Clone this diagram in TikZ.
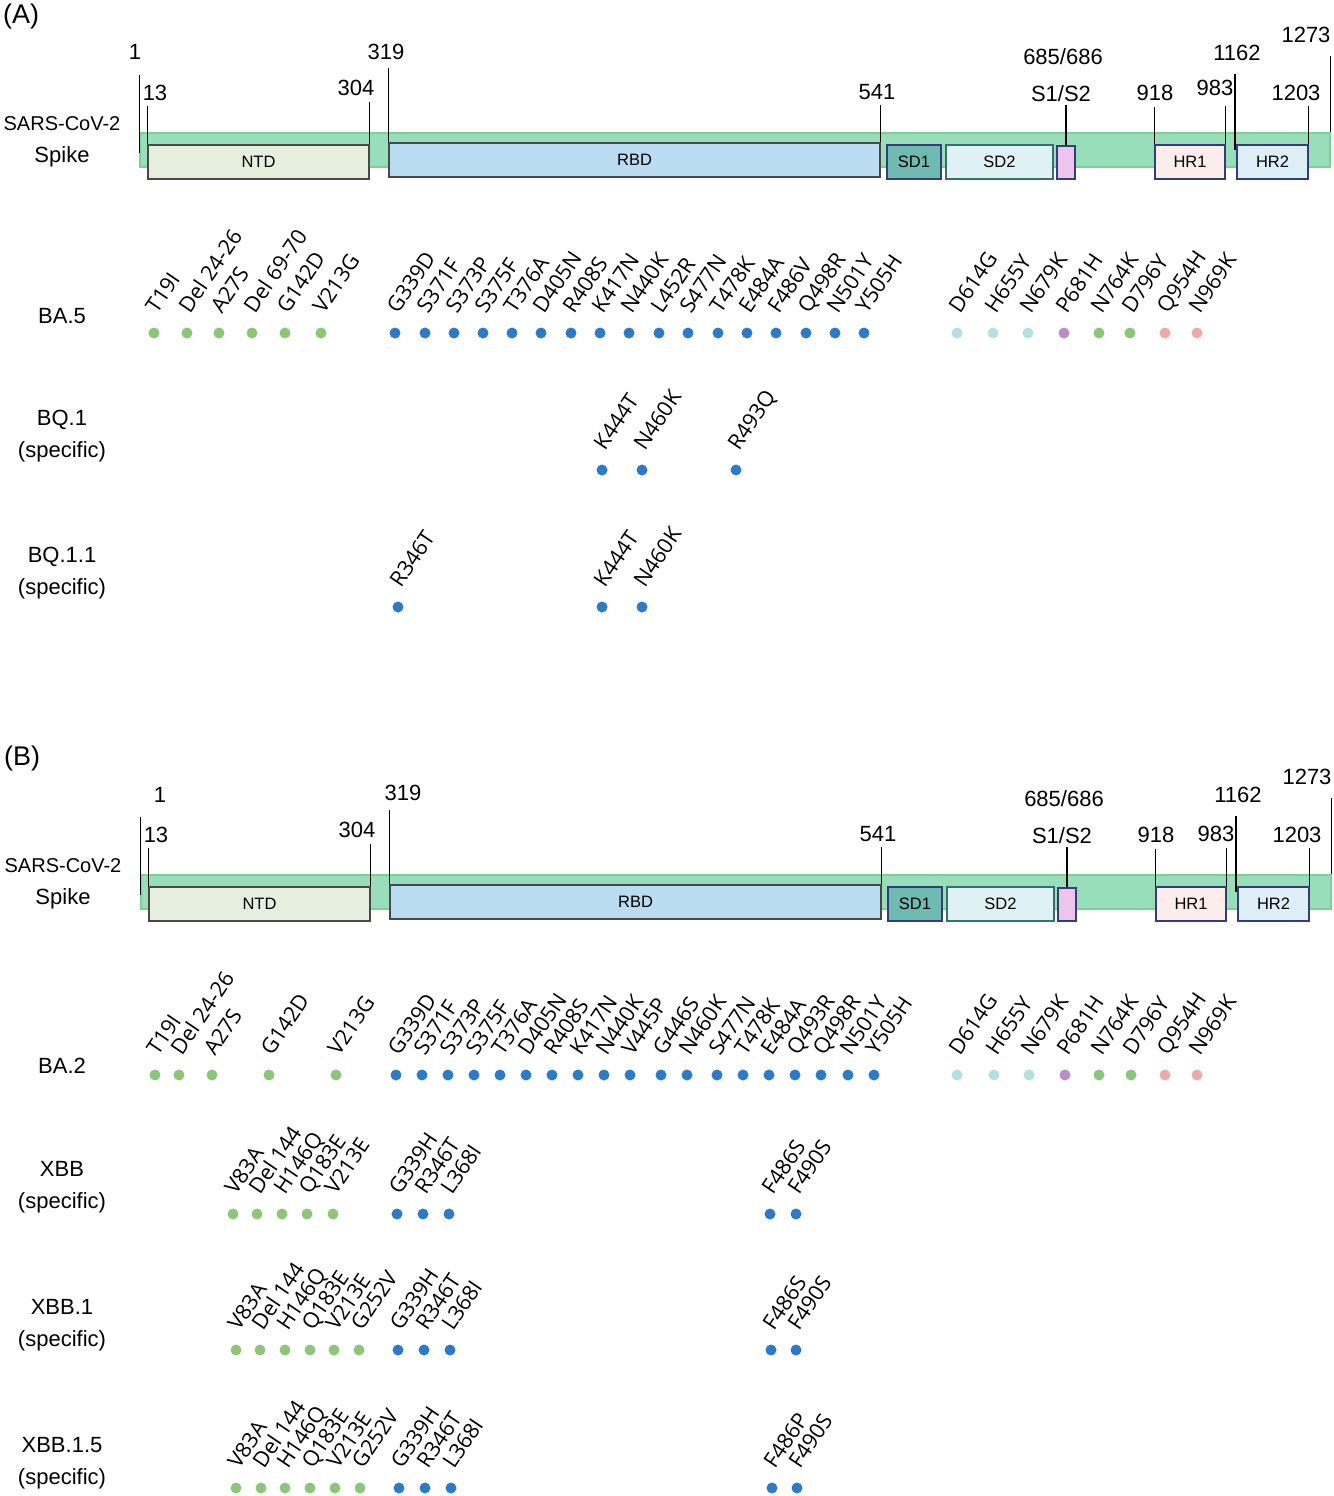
\documentclass[tikz,border=0pt]{standalone}
\usepackage{fontspec}
\setmainfont{Liberation Sans}
\newfontfamily\mutfont{Open Sans}
\usepackage{tikz}
\usetikzlibrary{positioning}

\definecolor{barmint}{RGB}{152,222,186}
\definecolor{barline}{RGB}{125,208,145}
\definecolor{boxgray}{RGB}{72,72,72}
\definecolor{boxnavy}{RGB}{52,62,118}
\definecolor{boxteal}{RGB}{52,112,112}
\definecolor{ntdfill}{RGB}{230,238,222}
\definecolor{rbdfill}{RGB}{186,220,242}
\definecolor{sdonefill}{RGB}{111,187,178}
\definecolor{sdtwofill}{RGB}{223,241,244}
\definecolor{cleavefill}{RGB}{236,196,236}
\definecolor{hronefill}{RGB}{253,236,236}
\definecolor{hrtwofill}{RGB}{221,238,246}
\definecolor{mutgreen}{RGB}{141,198,120}
\definecolor{mutblue}{RGB}{45,123,198}
\definecolor{mutcyan}{RGB}{180,225,223}
\definecolor{mutpurple}{RGB}{186,140,200}
\definecolor{mutpink}{RGB}{236,170,170}

\tikzset{
  panellab/.style={anchor=west, inner sep=0pt, font=\fontsize{27}{30}\selectfont},
  backbone/.style={rectangle, draw=barline, fill=barmint, line width=1.2pt,
                   minimum height=34pt, inner sep=0pt},
  domainbox/.style={rectangle, line width=1.4pt, minimum height=34pt, inner sep=0pt,
                 font=\fontsize{16.5}{18}\selectfont},
  poslab/.style={inner sep=0pt, font=\fontsize{22}{24}\selectfont},
  tickline/.style={line width=1.4pt, black},
  rowlab/.style={align=center, inner sep=0pt, font=\fontsize{22}{32}\selectfont},
  mutdot/.style={circle, inner sep=0pt, minimum size=11pt, draw=none},
  mutlab/.style={anchor=base west, rotate=56, inner sep=0pt,
                 font=\mutfont\fontsize{21.5}{24}\selectfont},
}

% spike map: #1 panel, #2 scope options, #3 pos of "1", #4 pos of "319", #5 pos of "983"
\newcommand{\spikemap}[5]{%
  \begin{scope}[#2]
    \node[panellab] (#1-tag) at (3,17) {(#1)};
    \node[rowlab, font=\fontsize{20}{32}\selectfont] (#1-name) at (62,142) {SARS-CoV-2\\\fontsize{22}{32}\selectfont Spike};
    % backbone and domains
    \node[backbone, minimum width=1190pt] (#1-bar) at (735,150) {};
    \node[domainbox, fill=ntdfill, draw=boxgray, minimum width=221pt] (#1-ntd) at (258.5,162) {NTD};
    \node[domainbox, fill=rbdfill, draw=boxgray, minimum width=491pt] (#1-rbd) at (634.5,160) {RBD};
    \node[domainbox, fill=sdonefill, draw=boxnavy, minimum width=54pt] (#1-sd1) at (914,162) {SD1};
    \node[domainbox, fill=sdtwofill, draw=boxteal, minimum width=107pt] (#1-sd2) at (999.5,162) {SD2};
    \node[domainbox, fill=cleavefill, draw=boxnavy, minimum width=18pt, minimum height=33pt] (#1-cut) at (1066,162.5) {};
    \node[domainbox, fill=hronefill, draw=boxnavy, minimum width=70pt] (#1-hr1) at (1190,162) {HR1};
    \node[domainbox, fill=hrtwofill, draw=boxnavy, minimum width=71pt] (#1-hr2) at (1272.5,162) {HR2};
    % ticks
    \draw[tickline] ([yshift=-3pt]#1-bar.west) -- ++(0,-78);
    \draw[tickline] (#1-ntd.north west) -- ++(0,-38);
    \draw[tickline] (#1-ntd.north east) -- ++(0,-42);
    \draw[tickline] (#1-rbd.north west) -- ++(0,-74);
    \draw[tickline] (#1-rbd.north east) -- ++(0,-37);
    \draw[tickline] (#1-cut.north) -- ++(0,-40);
    \draw[tickline] (#1-hr1.north west) -- ++(0,-37);
    \draw[tickline] (#1-hr1.north east) -- ++(0,-38);
    \draw[tickline] ([xshift=-1.5pt,yshift=-6pt]#1-hr2.north west) -- ++(0,-76);
    \draw[tickline] (#1-hr2.north east) -- ++(0,-38);
    \draw[tickline] (#1-bar.north east) -- ++(0,-76);
    % positions
    \node[poslab] (#1-p1) at (#3) {1};
    \node[poslab] (#1-p13) at (155,93) {13};
    \node[poslab] (#1-p304) at (356,88) {304};
    \node[poslab] (#1-p319) at (#4) {319};
    \node[poslab] (#1-p541) at (877,92) {541};
    \node[poslab] (#1-p685) at (1063,57) {685/686};
    \node[poslab] (#1-s1s2) at (1061,94) {S1/S2};
    \node[poslab] (#1-p918) at (1155,93) {918};
    \node[poslab] (#1-p983) at (#5) {983};
    \node[poslab] (#1-p1162) at (1237,53) {1162};
    \node[poslab] (#1-p1203) at (1296,93) {1203};
    \node[poslab] (#1-p1273) at (1306,35) {1273};
  \end{scope}}

% one row of mutations: #1 name, #2 dot y, #3 colour, #4 x/label list
\newcommand{\mutrow}[4]{%
  \foreach \x/\lab [count=\i] in {#4} {
    \node[mutdot, fill=#3] (#1\i) at (\x,#2) {};
    \node[mutlab] (#1\i-lab) at ([xshift=3pt,yshift=18pt]#1\i.center) {\lab};
  }}

\begin{document}
\begin{tikzpicture}[x=1pt, y=-1pt]
  \useasboundingbox (0,0) rectangle (1333,1496);

  % Panel A
  \spikemap{A}{}{135,52}{386,52}{1215,88}

  \node[rowlab] (ba5) at (62,316) {BA.5};
  \node[rowlab] (bq1) at (62,436) {BQ.1\\(specific)};
  \node[rowlab] (bq11) at (62,573) {BQ.1.1\\(specific)};

  \mutrow{ba5g}{333}{mutgreen}{154/T19I, 187/Del 24-26, 219/A27S, 252/Del 69-70, 285/G142D, 321/V213G}
  \mutrow{ba5b}{333}{mutblue}{395/G339D, 425/S371F, 454/S373P, 483/S375F, 512/T376A, 541/D405N,
    571/R408S, 600/K417N, 629/N440K, 659/L452R, 688/S477N, 718/T478K, 747/E484A, 776/F486V,
    806/Q498R, 835/N501Y, 864/Y505H}
  \mutrow{ba5c}{333}{mutcyan}{957/D614G, 993/H655Y, 1028/N679K}
  \mutrow{ba5p}{333}{mutpurple}{1064/P681H}
  \mutrow{ba5s}{333}{mutgreen}{1099/N764K, 1130/D796Y}
  \mutrow{ba5r}{333}{mutpink}{1165/Q954H, 1197/N969K}

  \mutrow{bq1b}{470}{mutblue}{602/K444T, 642/N460K, 736/R493Q}
  \mutrow{bq11b}{607}{mutblue}{398/R346T, 602/K444T, 642/N460K}

  % Panel B
  \spikemap{B}{xshift=1pt, yshift=-742pt}{159,53}{402,51}{1215,92}

  \node[rowlab] (ba2) at (62,1066) {BA.2};
  \node[rowlab] (xbb) at (62,1187) {XBB\\(specific)};
  \node[rowlab] (xbb1) at (62,1325) {XBB.1\\(specific)};
  \node[rowlab] (xbb15) at (62,1463) {XBB.1.5\\(specific)};

  \mutrow{ba2g}{1075}{mutgreen}{155/T19I, 179/Del 24-26, 212/A27S, 269/G142D, 336/V213G}
  \mutrow{ba2b}{1075}{mutblue}{396/G339D, 422/S371F, 448/S373P, 474/S375F, 500/T376A, 526/D405N,
    552/R408S, 578/K417N, 604/N440K, 630/V445P, 661/G446S, 687/N460K, 717/S477N, 743/T478K,
    769/E484A, 795/Q493R, 821/Q498R, 848/N501Y, 874/Y505H}
  \mutrow{ba2c}{1075}{mutcyan}{957/D614G, 994/H655Y, 1029/N679K}
  \mutrow{ba2p}{1075}{mutpurple}{1065/P681H}
  \mutrow{ba2s}{1075}{mutgreen}{1099/N764K, 1131/D796Y}
  \mutrow{ba2r}{1075}{mutpink}{1165/Q954H, 1197/N969K}

  \mutrow{xbbg}{1214}{mutgreen}{233/V83A, 257/Del 144, 282/H146Q, 307/Q183E, 333/V213E}
  \mutrow{xbbb}{1214}{mutblue}{397/G339H, 423/R346T, 449/L368I, 770/F486S, 796/F490S}

  \mutrow{xbbog}{1350}{mutgreen}{236/V83A, 260/Del 144, 285/H146Q, 310/Q183E, 334/V213E, 359/G252V}
  \mutrow{xbbob}{1350}{mutblue}{398/G339H, 424/R346T, 450/L368I, 771/F486S, 796/F490S}

  \mutrow{xbbfg}{1488}{mutgreen}{236/V83A, 261/Del 144, 285/H146Q, 310/Q183E, 335/V213E, 360/G252V}
  \mutrow{xbbfb}{1488}{mutblue}{399/G339H, 425/R346T, 451/L368I, 772/F486P, 797/F490S}
\end{tikzpicture}
\end{document}
